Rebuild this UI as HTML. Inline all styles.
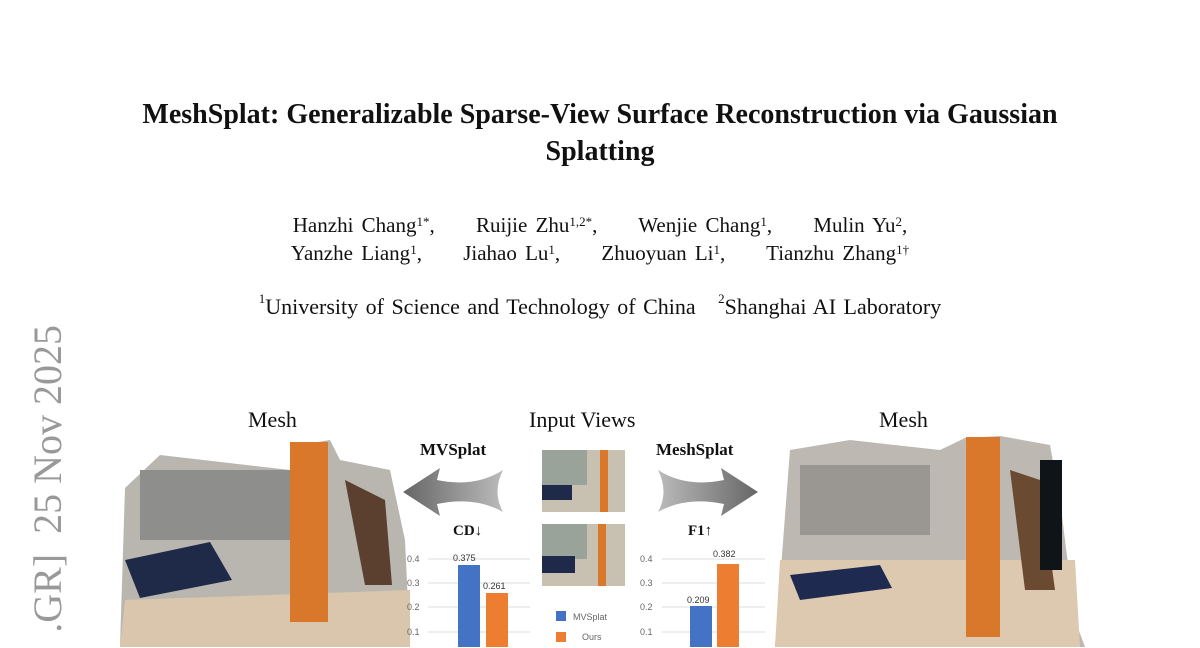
<!DOCTYPE html>
<html style="overflow:hidden;height:648px"><head><meta charset="utf-8"><style>
html,body{margin:0;padding:0}
#w{width:1200px;height:648px;overflow:hidden;background:#fff;position:relative;font-family:"Liberation Serif",serif;color:#111}
.a{position:absolute}
.c{position:absolute;left:0;width:1200px;text-align:center}
sup{font-size:13px;vertical-align:top;position:relative;top:-3px}
</style></head><body><div id="w">
<div class="c" style="top:96px;font-size:28px;font-weight:bold;line-height:37px">MeshSplat: Generalizable Sparse-View Surface Reconstruction via Gaussian<br>Splatting</div>
<div class="c" style="top:211px;font-size:21px;line-height:28px;word-spacing:3px">Hanzhi Chang<sup>1*</sup>,&nbsp;&nbsp;&nbsp;&nbsp; Ruijie Zhu<sup>1,2*</sup>,&nbsp;&nbsp;&nbsp;&nbsp; Wenjie Chang<sup>1</sup>,&nbsp;&nbsp;&nbsp;&nbsp; Mulin Yu<sup>2</sup>,<br>Yanzhe Liang<sup>1</sup>,&nbsp;&nbsp;&nbsp;&nbsp; Jiahao Lu<sup>1</sup>,&nbsp;&nbsp;&nbsp;&nbsp; Zhuoyuan Li<sup>1</sup>,&nbsp;&nbsp;&nbsp;&nbsp; Tianzhu Zhang<sup>1†</sup></div>
<div class="c" style="top:294px;font-size:22px;word-spacing:2px"><sup>1</sup>University of Science and Technology of China &nbsp;&nbsp;<sup>2</sup>Shanghai AI Laboratory</div>
<div class="a" style="left:26px;top:640px;width:315px;height:44px;text-align:right;font-size:40px;line-height:44px;color:#999;transform-origin:0 0;transform:rotate(-90deg);white-space:nowrap">.GR] &nbsp;25 Nov 2025</div>
<div class="a" style="left:248px;top:407px;font-size:22px">Mesh</div>
<div class="a" style="left:529px;top:407px;font-size:22px">Input Views</div>
<div class="a" style="left:879px;top:407px;font-size:22px">Mesh</div>
<div class="a" style="left:420px;top:440px;font-size:17px;font-weight:bold">MVSplat</div>
<div class="a" style="left:656px;top:440px;font-size:17px;font-weight:bold">MeshSplat</div>
<div class="a" style="left:453px;top:523px;font-size:15px;font-weight:bold">CD↓</div>
<div class="a" style="left:688px;top:523px;font-size:15px;font-weight:bold">F1↑</div>
<svg class="a" style="left:0;top:0" width="1200" height="648">
<defs><linearGradient id="g" x1="0" x2="1"><stop offset="0" stop-color="#666"/><stop offset="1" stop-color="#bbb"/></linearGradient>
<linearGradient id="g2" x1="1" x2="0"><stop offset="0" stop-color="#666"/><stop offset="1" stop-color="#bbb"/></linearGradient></defs>
<path d="M403,492 L440,468 L437,480 Q475,488 503,470 Q492,492 503,512 Q475,496 437,504 L440,516 Z" fill="url(#g)"/>
<path d="M758,492 L721,468 L724,480 Q686,488 658,470 Q669,492 658,512 Q686,496 724,504 L721,516 Z" fill="url(#g2)"/>
<path d="M125,488 L160,455 L290,470 L300,445 L330,440 L340,460 L390,470 L405,540 L410,647 L120,647 Z" fill="#b9b6b0"/>
<rect x="140" y="470" width="150" height="70" fill="#8e8e8c"/>
<path d="M125,600 L410,590 L410,647 L120,647Z" fill="#d9c6ad"/>
<path d="M125,560 L210,542 L232,580 L140,598Z" fill="#1f2a48"/>
<rect x="290" y="442" width="38" height="180" fill="#d9782a"/>
<path d="M345,480 L385,500 L392,585 L365,585Z" fill="#5b4030"/>
<path d="M790,450 L850,440 L940,450 L965,438 L1000,436 L1050,445 L1060,500 L1075,620 L1085,647 L775,647 Z" fill="#bdb9b2"/>
<rect x="800" y="465" width="130" height="70" fill="#9a9793"/>
<path d="M780,560 L1075,560 L1080,647 L775,647Z" fill="#dcc9b0"/>
<path d="M790,575 L880,565 L892,588 L800,600Z" fill="#1f2a50"/>
<rect x="966" y="437" width="34" height="200" fill="#d9782a"/>
<path d="M1010,470 L1040,480 L1055,590 L1025,590Z" fill="#6a4a30"/>
<rect x="1040" y="460" width="22" height="110" fill="#0f1418"/>
<rect x="542" y="450" width="83" height="62" fill="#c8c0b0"/>
<rect x="542" y="450" width="45" height="35" fill="#9aa39a"/>
<rect x="542" y="485" width="30" height="15" fill="#1f2a4a"/>
<rect x="600" y="450" width="8" height="62" fill="#d9782a"/>
<rect x="542" y="524" width="83" height="62" fill="#c8c0b0"/>
<rect x="542" y="524" width="45" height="35" fill="#9aa39a"/>
<rect x="542" y="556" width="33" height="17" fill="#1f2a4a"/>
<rect x="598" y="524" width="8" height="62" fill="#d9782a"/>
<g stroke="#ddd" stroke-width="1">
<line x1="428" y1="559" x2="530" y2="559"/><line x1="428" y1="583" x2="530" y2="583"/><line x1="428" y1="607" x2="530" y2="607"/><line x1="428" y1="632" x2="530" y2="632"/>
<line x1="662" y1="559" x2="765" y2="559"/><line x1="662" y1="583" x2="765" y2="583"/><line x1="662" y1="607" x2="765" y2="607"/><line x1="662" y1="632" x2="765" y2="632"/>
</g>
<g font-family="Liberation Sans" font-size="9" fill="#666">
<text x="407" y="562">0.4</text><text x="407" y="586">0.3</text><text x="407" y="610">0.2</text><text x="407" y="635">0.1</text>
<text x="640" y="562">0.4</text><text x="640" y="586">0.3</text><text x="640" y="610">0.2</text><text x="640" y="635">0.1</text>
<text x="453" y="561" fill="#333">0.375</text><text x="483" y="589" fill="#333">0.261</text>
<text x="687" y="603" fill="#333">0.209</text><text x="713" y="557" fill="#333">0.382</text>
<text x="573" y="620">MVSplat</text><text x="582" y="640">Ours</text>
</g>
<rect x="458" y="565" width="22" height="82" fill="#4472c4"/>
<rect x="486" y="593" width="22" height="54" fill="#ed7d31"/>
<rect x="690" y="606" width="22" height="41" fill="#4472c4"/>
<rect x="717" y="564" width="22" height="83" fill="#ed7d31"/>
<rect x="556" y="611" width="10" height="10" fill="#4472c4"/>
<rect x="556" y="632" width="10" height="10" fill="#ed7d31"/>
</svg>
</div></body></html>
